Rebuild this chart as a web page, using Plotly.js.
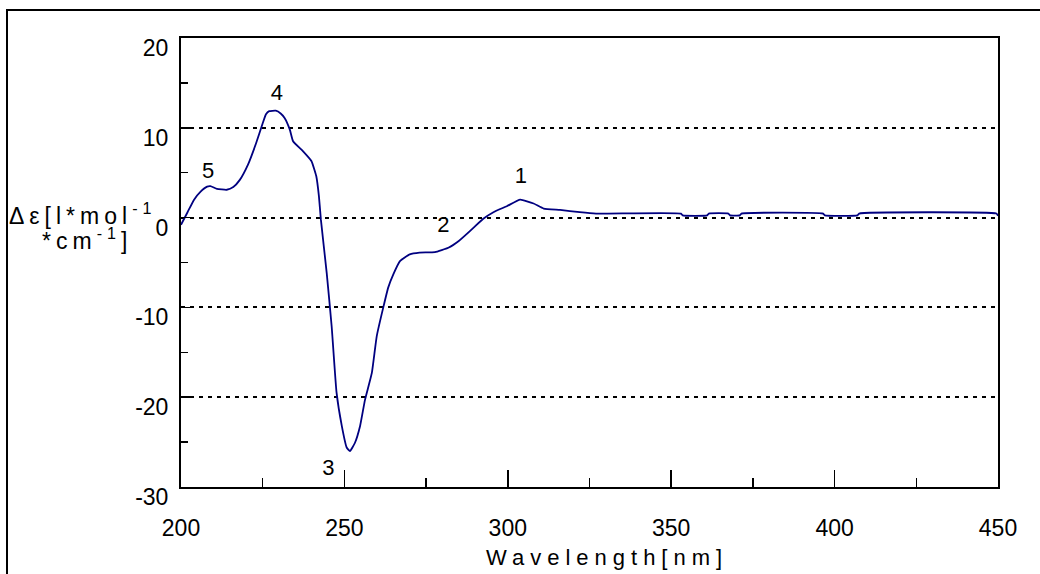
<!DOCTYPE html>
<html>
<head>
<meta charset="utf-8">
<script src="https://cdn.plot.ly/plotly-3.0.1.min.js"></script>
<style>
  html, body { margin: 0; padding: 0; background: #fff; }
  #wrap { position: relative; width: 1040px; height: 574px; overflow: hidden; }
  #chart { position: absolute; left: 0; top: 0; width: 1040px; height: 574px; }
  #frame { position: absolute; left: 6px; top: 9px; width: 1100px; height: 700px;
           border-left: 2px solid #000; border-top: 2px solid #000; pointer-events: none; }
  .annotation-text { letter-spacing: 5px; }
  .annotation[data-index="0"] .annotation-text { letter-spacing: 6px; }
</style>
</head>
<body>
<div id="wrap">
  <div id="chart"></div>
  <div id="frame"></div>
</div>
<script>
// CD spectrum: wavelength (nm) vs Δε
const wavelength = [200, 202, 204, 206, 208, 209, 211, 214, 216, 218, 220.5, 223, 225, 226, 227, 229, 230.5, 231.7, 233.3, 234.3, 237.3, 239.9, 241.4, 242.2, 242.8, 244.6, 246.1, 247.6, 249.2, 250.7, 251.7, 253.2, 254.8, 256.3, 258.4, 259.9, 261.9, 263.4, 265, 267, 270, 273, 277.7, 281.8, 285, 288.4, 292.5, 295.6, 299.7, 303.8, 307.9, 311, 316, 322, 327, 353, 353.5, 361, 361.5, 367.5, 368, 371, 371.5, 396.5, 397, 407, 407.5, 449.5, 450];
const deltaEps = [-0.8, 0.6, 2.0, 2.9, 3.45, 3.5, 3.2, 3.1, 3.4, 4.2, 5.9, 8.3, 10.5, 11.5, 11.85, 11.9, 11.6, 11.1, 9.8, 8.5, 7.4, 6.3, 4.6, 2.4, -0.2, -6.2, -12.1, -19.5, -23.2, -25.6, -26.0, -25.1, -23.2, -20.3, -17.3, -13.2, -10.0, -7.8, -6.3, -4.85, -4.1, -3.9, -3.85, -3.36, -2.6, -1.5, -0.13, 0.6, 1.27, 2.0, 1.57, 1.0, 0.85, 0.6, 0.45, 0.45, 0.25, 0.25, 0.45, 0.45, 0.25, 0.25, 0.45, 0.45, 0.25, 0.25, 0.45, 0.45, 0.2];

// band labels
const bandX = [208.3, 229.3, 304.0, 280.3, 245.1];
const bandY = [4.97, 13.7, 4.47, -0.94, -28.05];
const bandText = ['5', '4', '1', '2', '3'];

// axis ticks
const xTicks = [200, 250, 300, 350, 400, 450];
const yTicks = [-30, -20, -10, 0, 10, 20];

const FONT = 'Liberation Sans, Arial, sans-serif';

const traces = [
  {
    x: wavelength, y: deltaEps, type: 'scatter', mode: 'lines',
    line: { color: '#000080', width: 1.8, shape: 'spline', smoothing: 0.4 },
    hoverinfo: 'skip'
  },
  {
    x: bandX, y: bandY, text: bandText, type: 'scatter', mode: 'text',
    textposition: 'middle center',
    textfont: { family: FONT, size: 22, color: '#000' },
    hoverinfo: 'skip'
  }
];

const layout = {
  width: 1040, height: 574,
  margin: { l: 181, r: 42, t: 38, b: 87 },
  paper_bgcolor: '#fff', plot_bgcolor: '#fff',
  showlegend: false,
  font: { family: FONT, size: 23, color: '#000' },
  xaxis: {
    range: [200, 450], tickvals: xTicks, ticktext: xTicks.map(String),
    showline: true, linecolor: '#000', linewidth: 2, mirror: true,
    ticks: 'inside', ticklen: 17, tickwidth: 1.5, tickcolor: '#000',
    minor: { dtick: 25, tick0: 200, ticks: 'inside', ticklen: 9, tickwidth: 1.5, tickcolor: '#000', showgrid: false },
    showgrid: false, zeroline: false,
    ticklabelstandoff: 19,
    tickfont: { family: FONT, size: 23, color: '#000' }
  },
  yaxis: {
    range: [-30, 20], tickvals: yTicks, ticktext: yTicks.map(String),
    showline: true, linecolor: '#000', linewidth: 2, mirror: true,
    ticks: 'inside', ticklen: 12, tickwidth: 1.5, tickcolor: '#000',
    minor: { dtick: 5, tick0: 0, ticks: 'inside', ticklen: 7, tickwidth: 1.5, tickcolor: '#000', showgrid: false },
    showgrid: true, gridcolor: '#000', gridwidth: 2, griddash: '4px,5px',
    zeroline: false,
    ticklabelstandoff: 6,
    ticklabelshift: 10,
    tickfont: { family: FONT, size: 23, color: '#000' }
  },
  annotations: [
    {
      text: 'Wavelength[nm]', xref: 'paper', yref: 'paper',
      x: 0.521, y: -0.125, xanchor: 'center', yanchor: 'top', showarrow: false,
      font: { family: FONT, size: 22, color: '#000' }
    },
    {
      text: 'Δε[l*mol<sup>-1</sup>', xref: 'paper', yref: 'paper',
      x: -0.213, y: 0.607, xanchor: 'left', yanchor: 'middle', showarrow: false,
      font: { family: FONT, size: 23, color: '#000' }
    },
    {
      text: '*cm<sup>-1</sup>]', xref: 'paper', yref: 'paper',
      x: -0.115, y: 0.552, xanchor: 'center', yanchor: 'middle', showarrow: false,
      font: { family: FONT, size: 23, color: '#000' }
    }
  ]
};

Plotly.newPlot('chart', traces, layout, { staticPlot: true, displayModeBar: false });
</script>
</body>
</html>
